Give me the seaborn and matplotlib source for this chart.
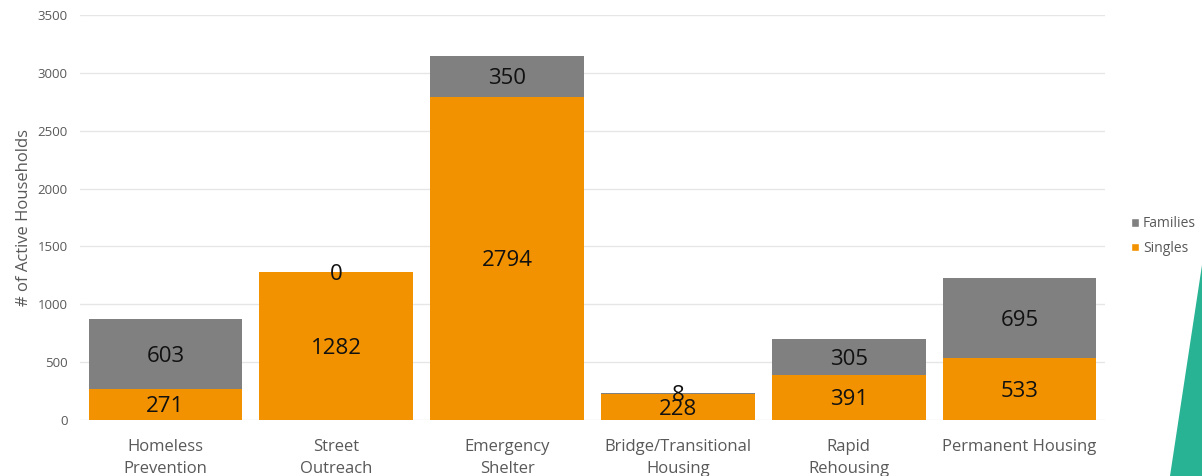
import matplotlib
matplotlib.use("Agg")
import matplotlib.pyplot as plt
import seaborn as sns
import pandas as pd
from matplotlib.patches import Polygon, Patch

categories = ["Homeless\nPrevention", "Street\nOutreach", "Emergency\nShelter",
              "Bridge/Transitional\nHousing", "Rapid\nRehousing", "Permanent Housing"]
singles = [271, 1282, 2794, 228, 391, 533]
families = [603, 0, 350, 8, 305, 695]
yticks = [0, 500, 1000, 1500, 2000, 2500, 3000, 3500]

ORANGE = "#F39200"
GRAY = "#808080"
TEXT = "#595959"

sns.set_theme(style="white")
plt.rcParams['font.family'] = ['Open Sans', 'DejaVu Sans']

totals = [s + f for s, f in zip(singles, families)]
df = pd.DataFrame({"category": categories, "Singles": singles,
                   "Families": families, "Total": totals})

fig = plt.figure(figsize=(12.02, 4.76), dpi=100)
ax = fig.add_axes([80/1202, 56/476, 1025/1202, 405/476])

sns.barplot(data=df, x="category", y="Total", color=GRAY, width=0.9,
            saturation=1, ax=ax, edgecolor="none", zorder=2)
sns.barplot(data=df, x="category", y="Singles", color=ORANGE, width=0.9,
            saturation=1, ax=ax, edgecolor="none", zorder=3)

for i, (s, f) in enumerate(zip(singles, families)):
    ax.text(i, s / 2, str(s), ha="center", va="center_baseline", fontsize=16,
            color="#111111", zorder=5)
    ax.text(i, s + f / 2, str(f), ha="center", va="center_baseline", fontsize=16,
            color="#111111", zorder=5)

ax.set_ylim(0, 3500)
ax.set_xlim(-0.5, len(categories) - 0.5)
ax.set_yticks(yticks)
ax.set_yticklabels([str(t) for t in yticks])
ax.yaxis.grid(True, color="#E6E6E6", linewidth=1, zorder=0)
ax.set_axisbelow(True)
for sp in ax.spines.values():
    sp.set_visible(False)
ax.tick_params(axis="y", length=0, pad=9, labelsize=9.5, labelcolor=TEXT)
ax.tick_params(axis="x", length=0, pad=14, labelsize=12, labelcolor=TEXT)
for lab in ax.get_xticklabels():
    lab.set_linespacing(1.45)
ax.set_xlabel("")
ax.set_ylabel("# of Active Households", fontsize=12, color=TEXT, labelpad=4)

handles = [Patch(facecolor=GRAY, label="Families"),
           Patch(facecolor=ORANGE, label="Singles")]
fig.legend(handles=handles, loc="center left", bbox_to_anchor=(1118/1202, 1 - 236/476),
           frameon=False, fontsize=10, labelcolor=TEXT, handlelength=0.6,
           handleheight=0.6, handletextpad=0.3, labelspacing=0.7)

tri = Polygon([(1170/1202, 0), (1.0, 0), (1.0, 1 - 265/476)], closed=True,
              transform=fig.transFigure, facecolor="#27B394", edgecolor="none")
fig.patches.append(tri)

fig.savefig("out.png", dpi=100)
